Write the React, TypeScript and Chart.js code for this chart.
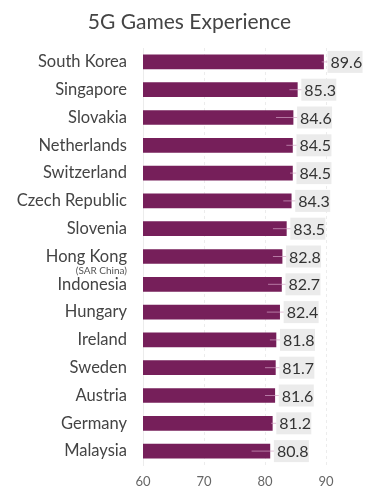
import React, { useEffect, useRef } from "react";
import { Chart, registerables } from "chart.js";

Chart.register(...registerables);

const categories = [
  "South Korea", "Singapore", "Slovakia", "Netherlands", "Switzerland",
  "Czech Republic", "Slovenia", "Hong Kong", "Indonesia", "Hungary",
  "Ireland", "Sweden", "Austria", "Germany", "Malaysia",
];
const scores = [89.6, 85.3, 84.6, 84.5, 84.5, 84.3, 83.5, 82.8, 82.7, 82.4, 81.8, 81.7, 81.6, 81.2, 80.8];
const errorHalf = [0.3, 1.3, 2.8, 1.0, 0.4, 1.3, 2.2, 1.5, 2.2, 2.1, 1.0, 1.7, 1.6, 0.2, 3.0];
const xTicks = [60, 70, 80, 90];
const subLabels: Record<string, string> = { "Hong Kong": "(SAR China)" };
const titleText = "5G Games Experience";

const FONT = "Lato, 'Open Sans', sans-serif";

export default function App() {
  const ref = useRef<HTMLCanvasElement | null>(null);
  useEffect(() => {
    document.body.style.margin = "0";
    const canvas = ref.current!;
    const annotate = {
      id: "annotate",
      afterDatasetsDraw(chart: any) {
        const ctx = chart.ctx;
        const meta = chart.getDatasetMeta(0);
        const xs = chart.scales.x;
        ctx.save();
        ctx.fillStyle = "#444";
        ctx.font = `21px ${FONT}`;
        ctx.textAlign = "center";
        ctx.textBaseline = "middle";
        ctx.fillText(titleText, chart.width / 2, 22);
        meta.data.forEach((bar: any, i: number) => {
          const v = scores[i];
          const y = bar.y;
          const x0 = xs.getPixelForValue(v - errorHalf[i]);
          const x1 = xs.getPixelForValue(v + errorHalf[i]);
          const end = bar.x;
          const boxX = end + 4;
          ctx.strokeStyle = "rgba(210,160,195,0.7)";
          ctx.lineWidth = 1;
          ctx.beginPath();
          ctx.moveTo(x0, y);
          ctx.lineTo(Math.max(x1, boxX), y);
          ctx.stroke();
          ctx.fillStyle = "#ebebeb";
          ctx.fillRect(boxX, y - 11, 35, 22);
          ctx.fillStyle = "#333";
          ctx.font = `16px ${FONT}`;
          ctx.textAlign = "left";
          ctx.textBaseline = "middle";
          ctx.fillText(v.toFixed(1), boxX + 3, y + 1);
        });
        const ys = chart.scales.y;
        categories.forEach((c, i) => {
          if (subLabels[c]) {
            const yy = ys.getPixelForValue(i);
            ctx.fillStyle = "#555";
            ctx.font = `10px ${FONT}`;
            ctx.textAlign = "right";
            ctx.textBaseline = "middle";
            ctx.fillText(subLabels[c], ys.right - 16, yy + 14);
          }
        });
        ctx.restore();
      },
    };
    const chart = new Chart(canvas, {
      type: "bar",
      data: {
        labels: categories,
        datasets: [
          {
            data: scores,
            backgroundColor: "#761f5a",
            barThickness: 14,
          },
        ],
      },
      options: {
        indexAxis: "y",
        animation: false,
        responsive: false,
        layout: { padding: { left: 0, right: 53, top: 48, bottom: 8 } },
        plugins: {
          legend: { display: false },
          tooltip: { enabled: false },
          title: { display: false },
        },
        scales: {
          x: {
            min: 60,
            max: 90,
            afterBuildTicks(axis: any) {
              axis.ticks = xTicks.map((v) => ({ value: v }));
            },
            afterFit(axis: any) {
              axis.height = 25;
              axis.paddingLeft = 0;
              axis.paddingRight = 0;
            },
            grid: { color: "#ececec", drawTicks: false },
            border: { display: false, dash: [3, 3] },
            ticks: { color: "#666", font: { family: FONT, size: 13 }, padding: 9 },
          },
          y: {
            afterFit(axis: any) {
              axis.width = 143;
              axis.paddingTop = 0;
              axis.paddingBottom = 0;
            },
            grid: { display: false, drawTicks: false },
            border: { display: true, color: "#ececec" },
            ticks: { color: "#444", font: { family: FONT, size: 16.5 }, padding: 16 },
          },
        },
      },
      plugins: [annotate],
    });
    return () => chart.destroy();
  }, []);
  return (
    <div style={{ width: 379, height: 498 }}>
      <canvas ref={ref} width={379} height={498} />
    </div>
  );
}
